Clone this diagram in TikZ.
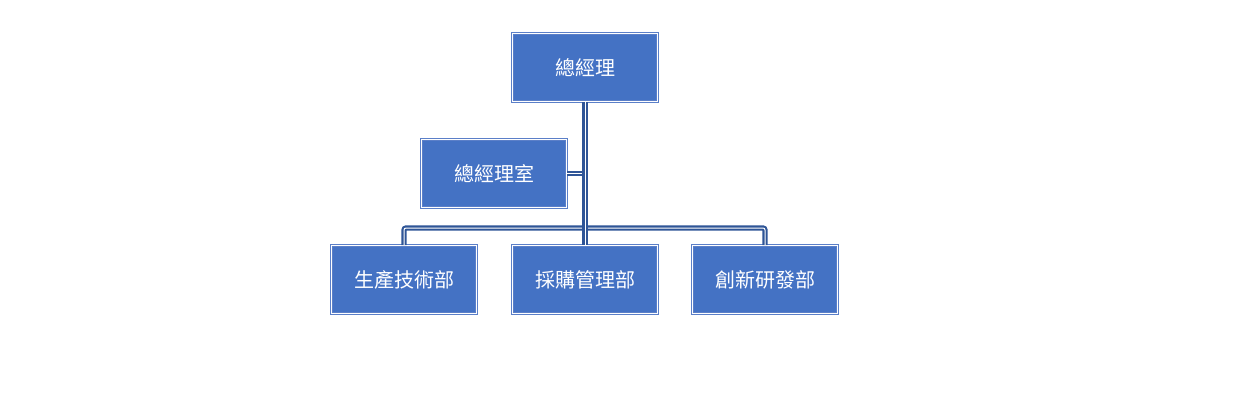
\documentclass[tikz,border=0pt]{standalone}
\usepackage{fontspec}
\newfontfamily\cjk{Noto Sans CJK TC}
\definecolor{unitblue}{HTML}{4472C4}
\definecolor{edgeblue}{HTML}{5B7FC8}
\definecolor{linkblue}{HTML}{2F5597}
\tikzset{
  unit/.style={draw=edgeblue,double=white,double distance=1.4pt,line width=1pt,
    fill=unitblue,minimum width=145pt,minimum height=68pt,inner sep=0pt,
    text=white,font=\cjk\fontsize{20}{24}\selectfont},
  link/.style={draw=linkblue,double=white,double distance=1pt,line width=2.1pt}
}
\begin{document}
\begin{tikzpicture}[x=1pt,y=-1pt]
\useasboundingbox[fill=white] (0,0) rectangle (1235,404);
% org chart: general manager, office, three departments
\node[unit] (gm) at (585,67.5) {總經理};
\node[unit] (office) at (494,173.5) {總經理室};
\node[unit] (prod) at (404,279.5) {生產技術部};
\node[unit] (purch) at (585,279.5) {採購管理部};
\node[unit] (innov) at (765,279.5) {創新研發部};
\coordinate (bus) at (585,228);
% connectors
\draw[link,rounded corners=2pt] (prod.north) |- (bus) -| (innov.north);
\draw[link] (office.east) -- (office.east -| gm.south);
\draw[link] (gm.south) -- (purch.north);
\end{tikzpicture}
\end{document}
